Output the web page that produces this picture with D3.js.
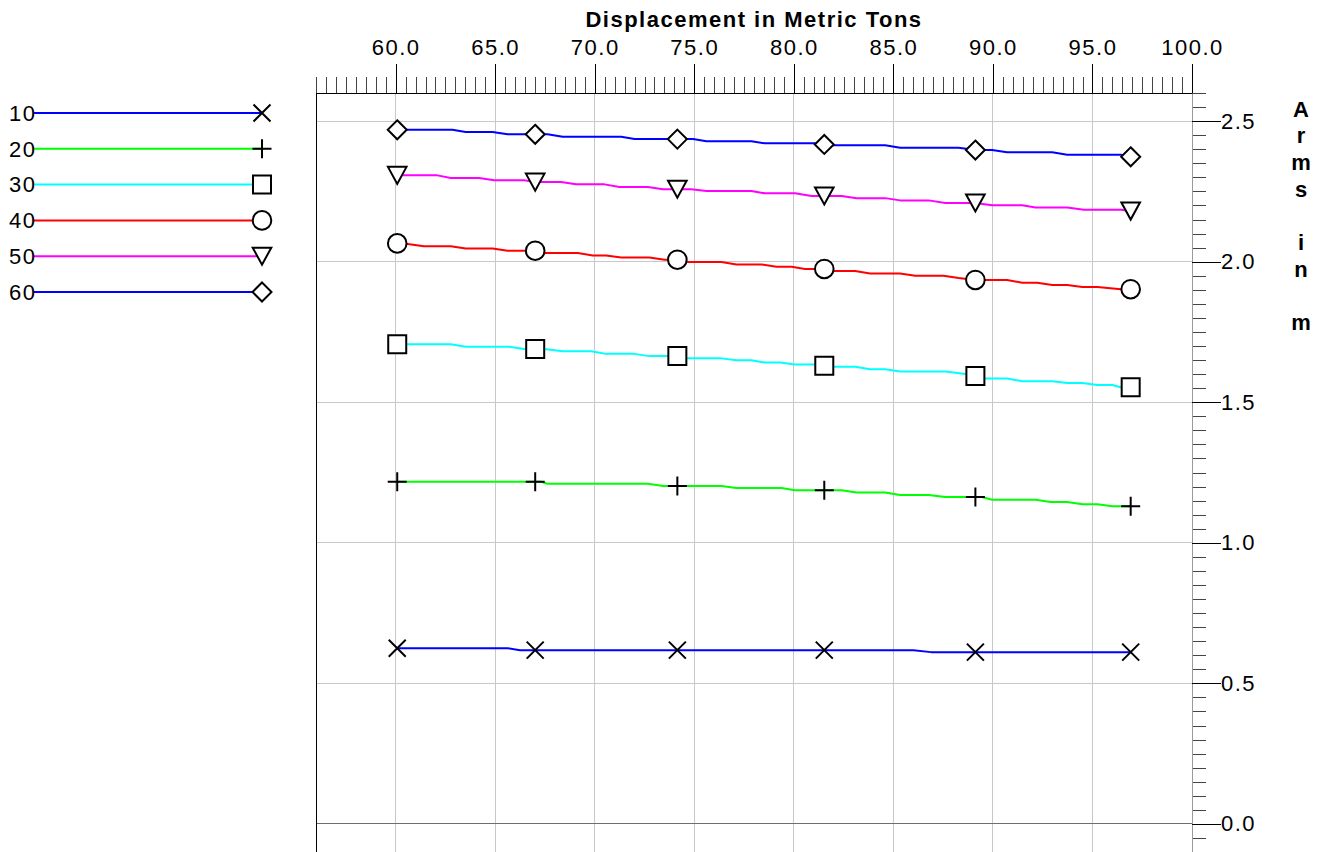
<!DOCTYPE html>
<html>
<head>
<meta charset="utf-8">
<script src="https://cdn.jsdelivr.net/npm/d3@7"></script>
<style>
  html, body { margin: 0; padding: 0; background: #fff; }
  svg { display: block; font-family: "Liberation Sans", Arial, sans-serif; }
</style>
</head>
<body>
<svg id="chart" width="1333" height="852"></svg>
<script>
// Righting-arm curves versus displacement, one curve per heel angle.
const seriesNames = ["10", "20", "30", "40", "50", "60"];
const seriesColors = ["#0000ff", "#00ff00", "#00ffff", "#ff0000", "#ff00ff", "#0000ff"];
const seriesSymbols = ["cross", "plus", "square", "circle", "triangle", "diamond"];

// Displacements at which the curve symbols sit
const markerDisplacement = [60.08, 67.01, 74.15, 81.53, 89.12, 96.92];

// [displacement (t), arm (m)] per heel angle
const arm10 = [[60.08, 0.625], [65.62, 0.625], [66.25, 0.618], [86.01, 0.618], [86.89, 0.611], [96.92, 0.611]];
const arm20 = [[60.08, 1.217], [67.30, 1.217], [67.63, 1.210], [72.67, 1.210], [73.43, 1.202], [76.36, 1.202],
  [77.12, 1.195], [79.38, 1.195], [80.06, 1.187], [82.40, 1.187], [83.16, 1.179], [84.59, 1.179],
  [85.34, 1.170], [86.77, 1.170], [87.61, 1.163], [89.45, 1.163], [89.96, 1.153], [92.14, 1.153],
  [92.90, 1.145], [93.73, 1.145], [94.49, 1.137], [95.25, 1.137], [96.00, 1.130], [96.92, 1.130]];
const arm30 = [[60.08, 1.706], [62.77, 1.706], [63.52, 1.697], [65.70, 1.697], [66.46, 1.689], [67.47, 1.689],
  [68.39, 1.681], [69.82, 1.681], [70.57, 1.672], [72.00, 1.672], [72.75, 1.664], [74.18, 1.664],
  [74.68, 1.656], [76.36, 1.656], [77.12, 1.649], [77.87, 1.649], [78.55, 1.641], [79.30, 1.641],
  [80.06, 1.634], [81.06, 1.634], [81.90, 1.626], [83.08, 1.626], [83.83, 1.617], [84.59, 1.617],
  [85.34, 1.609], [87.61, 1.609], [88.62, 1.600], [89.12, 1.593], [89.62, 1.584], [90.71, 1.584],
  [91.47, 1.575], [92.98, 1.575], [93.73, 1.568], [94.49, 1.568], [95.25, 1.561], [96.00, 1.561],
  [96.42, 1.553], [96.92, 1.553]];
const arm40 = [[60.08, 2.065], [60.42, 2.065], [61.42, 2.055], [62.77, 2.055], [63.52, 2.047], [64.87, 2.047],
  [65.62, 2.039], [67.01, 2.039], [67.47, 2.031], [69.15, 2.031], [69.90, 2.022], [70.57, 2.022],
  [71.33, 2.015], [72.75, 2.015], [73.51, 2.007], [74.15, 2.007], [74.68, 1.999], [76.36, 1.999],
  [77.12, 1.990], [78.38, 1.990], [79.13, 1.982], [79.89, 1.982], [80.56, 1.974], [81.53, 1.974],
  [81.90, 1.967], [83.08, 1.967], [83.83, 1.958], [85.34, 1.958], [86.10, 1.950], [87.52, 1.950],
  [88.28, 1.942], [89.12, 1.935], [90.71, 1.935], [91.47, 1.925], [92.22, 1.925], [92.98, 1.917],
  [93.73, 1.917], [94.49, 1.910], [95.25, 1.910], [96.42, 1.902], [96.92, 1.902]];
const arm50 = [[60.08, 2.307], [62.10, 2.307], [62.77, 2.298], [64.19, 2.298], [64.95, 2.290], [66.46, 2.290],
  [67.01, 2.283], [68.31, 2.283], [69.06, 2.275], [70.49, 2.275], [71.24, 2.266], [72.67, 2.266],
  [73.43, 2.258], [74.85, 2.258], [75.61, 2.251], [77.87, 2.251], [78.55, 2.243], [80.06, 2.243],
  [80.89, 2.234], [82.40, 2.234], [83.16, 2.226], [84.59, 2.226], [85.34, 2.218], [86.77, 2.218],
  [87.61, 2.209], [89.12, 2.209], [89.96, 2.201], [91.47, 2.201], [92.14, 2.193], [93.73, 2.193],
  [94.57, 2.185], [96.42, 2.185], [96.92, 2.180]];
const arm60 = [[60.08, 2.469], [62.85, 2.469], [63.52, 2.461], [64.87, 2.461], [65.62, 2.453], [67.63, 2.453],
  [68.39, 2.444], [71.33, 2.444], [72.00, 2.436], [74.94, 2.436], [75.61, 2.428], [77.87, 2.428],
  [78.55, 2.421], [81.06, 2.421], [81.90, 2.414], [84.59, 2.414], [85.34, 2.405], [88.28, 2.405],
  [89.12, 2.397], [89.96, 2.397], [90.71, 2.389], [92.98, 2.389], [93.73, 2.380], [96.42, 2.380],
  [96.92, 2.373]];
const armSeries = [arm10, arm20, arm30, arm40, arm50, arm60];

// Axis ticks
const xMajorTicks = [60, 65, 70, 75, 80, 85, 90, 95, 100];
const yMajorTicks = [0, 0.5, 1.0, 1.5, 2.0, 2.5];
const xTitle = "Displacement in Metric Tons";
const yTitle = "Arms in m";

const svg = d3.select("#chart");
const x = d3.scaleLinear().domain([56, 100]).range([316, 1192]);
const y = d3.scaleLinear().domain([-0.1, 2.6]).range([852, 93]);
const [plotLeft, plotRight] = x.range();
const [plotBottom, plotTop] = y.range();

// Grid
const grid = svg.append("g").attr("shape-rendering", "crispEdges");
grid.selectAll(".vg").data(xMajorTicks.filter(d => d < 100)).join("line")
  .attr("x1", d => x(d)).attr("x2", d => x(d)).attr("y1", plotTop).attr("y2", plotBottom)
  .attr("stroke", "#c8c8c8").attr("stroke-width", 1);
grid.selectAll(".hg").data(yMajorTicks).join("line")
  .attr("x1", plotLeft).attr("x2", plotRight).attr("y1", d => y(d)).attr("y2", d => y(d))
  .attr("stroke", d => d === 0 ? "#6e6e6e" : "#c8c8c8").attr("stroke-width", 1);

// Left frame edge
svg.append("line").attr("x1", plotLeft).attr("x2", plotLeft).attr("y1", plotTop).attr("y2", plotBottom)
  .attr("stroke", "#000").attr("stroke-width", 1).attr("shape-rendering", "crispEdges");

// Top axis (displacement)
const minorX = d3.range(56, 100.001, 0.5);
const topMinor = svg.append("g").attr("transform", `translate(0,${plotTop})`)
  .call(d3.axisTop(x).tickValues(minorX).tickSize(16).tickSizeOuter(0).tickFormat(""));
const topMajor = svg.append("g").attr("transform", `translate(0,${plotTop})`)
  .call(d3.axisTop(x).tickValues(xMajorTicks).tickSize(29).tickSizeOuter(0).tickPadding(9)
    .tickFormat(d3.format(".1f")));
[topMinor, topMajor].forEach(g => {
  g.attr("shape-rendering", "crispEdges");
  g.select(".domain").attr("stroke", "#000");
  g.selectAll(".tick line").attr("stroke", "#000");
});
topMinor.selectAll(".tick line").attr("stroke", "#444");
topMajor.selectAll(".tick text").attr("font-size", 22).attr("fill", "#000")
  .attr("font-family", "Liberation Sans, Arial, sans-serif").style("letter-spacing", "1.5px");

// Right axis (arm)
const minorY = d3.range(-0.1, 2.6001, 0.05).map(v => Math.round(v * 100) / 100);
const rightMinor = svg.append("g").attr("transform", `translate(${plotRight},0)`)
  .call(d3.axisRight(y).tickValues(minorY).tickSize(14).tickSizeOuter(0).tickFormat(""));
const rightMajor = svg.append("g").attr("transform", `translate(${plotRight},0)`)
  .call(d3.axisRight(y).tickValues(yMajorTicks).tickSize(29).tickSizeOuter(0).tickPadding(0)
    .tickFormat(d3.format(".1f")));
[rightMinor, rightMajor].forEach(g => {
  g.attr("shape-rendering", "crispEdges");
  g.select(".domain").attr("stroke", "#9a9a9a");
});
rightMinor.selectAll(".tick line").attr("stroke", "#444");
rightMajor.selectAll(".tick line").attr("stroke", "#000");
rightMajor.selectAll(".tick text").attr("font-size", 22).attr("fill", "#000")
  .attr("font-family", "Liberation Sans, Arial, sans-serif").style("letter-spacing", "1.5px");

// Axis titles
svg.append("text").attr("x", (plotLeft + plotRight) / 2).attr("y", 27).attr("text-anchor", "middle")
  .attr("font-size", 22).attr("font-weight", "bold").style("letter-spacing", "1.5px").text(xTitle);
svg.append("g").selectAll("text").data(yTitle.split("")).join("text")
  .attr("x", 1301).attr("y", (d, i) => 116.7 + i * 26.7).attr("text-anchor", "middle")
  .attr("font-size", 22).attr("font-weight", "bold").text(d => d);

// Symbols
function symbolPath(kind) {
  switch (kind) {
    case "cross": return "M-8.5,-8.5L8.5,8.5M-8.5,8.5L8.5,-8.5";
    case "plus": return "M-9.5,0L9.5,0M0,-9.5L0,9.5";
    case "square": return "M-9,-9H9V9H-9Z";
    case "circle": return "M9.3,0A9.3,9.3 0 1,1 -9.3,0A9.3,9.3 0 1,1 9.3,0Z";
    case "triangle": return "M-9.3,-8.5L9.3,-8.5L0,8.5Z";
    case "diamond": return "M0,-9.5L9.5,0L0,9.5L-9.5,0Z";
  }
}
function drawSymbol(g, kind, cx, cy) {
  g.append("path").attr("d", symbolPath(kind)).attr("transform", `translate(${cx},${cy})`)
    .attr("fill", kind === "cross" || kind === "plus" ? "none" : "#fff")
    .attr("stroke", "#000").attr("stroke-width", 2);
}

// Value on a piecewise-linear curve
function valueAt(curve, d) {
  const i = d3.bisector(p => p[0]).left(curve, d);
  if (i <= 0) return curve[0][1];
  if (i >= curve.length) return curve[curve.length - 1][1];
  const a = curve[i - 1], b = curve[i];
  return a[1] + (b[1] - a[1]) * (d - a[0]) / (b[0] - a[0]);
}

// Curves
const line = d3.line().x(p => x(p[0])).y(p => y(p[1]));
const curves = svg.append("g");
armSeries.forEach((curve, i) => {
  curves.append("path").attr("d", line(curve)).attr("fill", "none")
    .attr("stroke", seriesColors[i]).attr("stroke-width", 2).attr("stroke-linejoin", "round");
});
const marks = svg.append("g");
armSeries.forEach((curve, i) => {
  markerDisplacement.forEach(d => drawSymbol(marks, seriesSymbols[i], x(d), y(valueAt(curve, d))));
});

// Legend
const legend = svg.append("g");
seriesNames.forEach((name, i) => {
  const ly = 113 + i * 35.8;
  legend.append("line").attr("x1", 34).attr("x2", 262).attr("y1", ly).attr("y2", ly)
    .attr("stroke", seriesColors[i]).attr("stroke-width", 2);
  legend.append("text").attr("x", 9).attr("y", ly).attr("dy", "0.35em")
    .attr("font-size", 22).style("letter-spacing", "1.5px").attr("fill", "#000").text(name);
  drawSymbol(legend, seriesSymbols[i], 262, ly);
});
</script>
</body>
</html>
